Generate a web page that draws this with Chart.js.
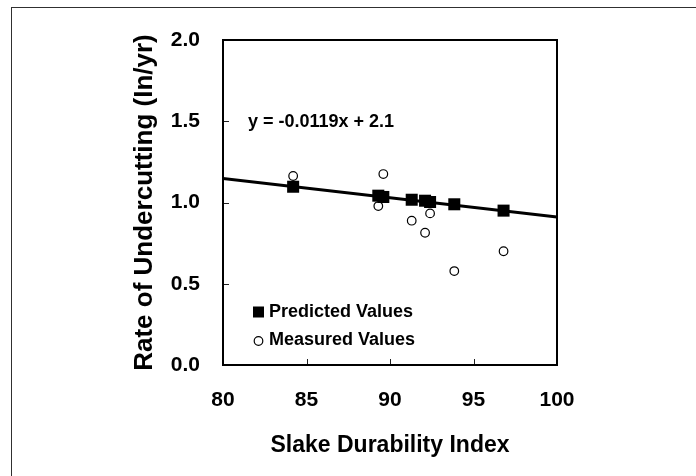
<!DOCTYPE html>
<html>
<head>
<meta charset="utf-8">
<script src="https://cdn.jsdelivr.net/npm/chart.js@4/dist/chart.umd.min.js"></script>
<style>
  html, body { margin: 0; padding: 0; background: #ffffff; }
  #wrap { width: 696px; height: 476px; position: relative; }
</style>
</head>
<body>
<div id="wrap"><canvas id="c" width="696" height="476"></canvas></div>
<script>
// ---- data ----
const slakeIndex      = [84.2, 89.3, 89.6, 91.3, 92.1, 92.4, 93.85, 96.8];
const predictedValues = [1.097, 1.042, 1.034, 1.017, 1.011, 1.003, 0.989, 0.950];
const measuredValues  = [1.163, 0.978, 1.175, 0.888, 0.814, 0.933, 0.578, 0.700];
const trendSlope = -0.0119;
const trendIntercept = 2.1;
const trendX = [80, 100];
const xTicks = [80, 85, 90, 95, 100];
const yTicks = [0.0, 0.5, 1.0, 1.5, 2.0];
const seriesNames = ['Predicted Values', 'Measured Values'];
const equationText = 'y = -0.0119x + 2.1';
const xTitle = 'Slake Durability Index';
const yTitle = 'Rate of Undercutting (In/yr)';

const FONT = '"Liberation Sans", Arial, sans-serif';

const predictedPts = slakeIndex.map((x, i) => ({x: x, y: predictedValues[i]}));
const measuredPts  = slakeIndex.map((x, i) => ({x: x, y: measuredValues[i]}));
const trendPts     = trendX.map(x => ({x: x, y: trendIntercept + trendSlope * x}));

const decorPlugin = {
  id: 'decor',
  beforeDraw(chart) {
    const ctx = chart.ctx;
    ctx.save();
    ctx.fillStyle = '#ffffff';
    ctx.fillRect(0, 0, chart.width, chart.height);
    // outer chart-area border (continues past right/bottom edge)
    ctx.strokeStyle = '#303030';
    ctx.lineWidth = 1;
    ctx.strokeRect(11.5, 7.5, 800, 600);
    ctx.restore();
  },
  afterDatasetsDraw(chart) {
    const ctx = chart.ctx;
    const a = chart.chartArea;
    const xs = chart.scales.x, ys = chart.scales.y;
    ctx.save();
    // inward tick marks
    ctx.strokeStyle = '#202020';
    ctx.lineWidth = 1;
    ctx.beginPath();
    xTicks.forEach(v => {
      const px = Math.round(xs.getPixelForValue(v)) + 0.5;
      ctx.moveTo(px, a.bottom);
      ctx.lineTo(px, a.bottom - 6);
    });
    yTicks.forEach(v => {
      const py = Math.round(ys.getPixelForValue(v)) + 0.5;
      ctx.moveTo(a.left, py);
      ctx.lineTo(a.left + 6, py);
    });
    ctx.stroke();
    // plot frame
    ctx.strokeStyle = '#000000';
    ctx.lineWidth = 2;
    ctx.strokeRect(a.left, a.top, a.right - a.left, a.bottom - a.top);

    // equation text
    ctx.fillStyle = '#000000';
    ctx.font = 'bold 18px ' + FONT;
    ctx.textAlign = 'left';
    ctx.textBaseline = 'middle';
    ctx.fillText(equationText, 248, 122);

    // legend
    const lx = 258.5;
    const rows = [312, 340];
    ctx.fillStyle = '#000000';
    ctx.fillRect(lx - 5.5, rows[0] - 5.5, 11, 11);
    ctx.beginPath();
    ctx.arc(lx, rows[1] + 1, 4.3, 0, Math.PI * 2);
    ctx.fillStyle = '#ffffff';
    ctx.fill();
    ctx.lineWidth = 1.2;
    ctx.strokeStyle = '#000000';
    ctx.stroke();
    ctx.fillStyle = '#000000';
    ctx.font = 'bold 18px ' + FONT;
    ctx.fillText(seriesNames[0], 269, rows[0]);
    ctx.fillText(seriesNames[1], 269, rows[1]);
    ctx.restore();
  }
};

new Chart(document.getElementById('c'), {
  type: 'scatter',
  data: {
    datasets: [
      {
        label: seriesNames[0],
        data: predictedPts,
        pointStyle: 'rect',
        pointRadius: 8.5,
        pointHoverRadius: 8.5,
        backgroundColor: '#000000',
        borderColor: '#000000',
        borderWidth: 0,
        order: 1
      },
      {
        label: seriesNames[1],
        data: measuredPts,
        pointStyle: 'circle',
        pointRadius: 4.3,
        pointHoverRadius: 4.3,
        backgroundColor: '#ffffff',
        borderColor: '#000000',
        borderWidth: 1.2,
        order: 2
      },
      {
        label: 'Trend',
        type: 'line',
        data: trendPts,
        showLine: true,
        borderColor: '#000000',
        borderWidth: 3,
        pointRadius: 0,
        fill: false,
        order: 3
      }
    ]
  },
  plugins: [decorPlugin],
  options: {
    responsive: false,
    animation: false,
    devicePixelRatio: 1,
    layout: { padding: { left: 0, top: 40, right: 139, bottom: 0 } },
    plugins: {
      legend: { display: false },
      tooltip: { enabled: false },
      title: { display: false }
    },
    scales: {
      x: {
        type: 'linear',
        position: 'bottom',
        min: 80, max: 100,
        afterBuildTicks: s => { s.ticks = xTicks.map(v => ({value: v})); },
        afterFit: s => { s.height = 111; },
        grid: { display: false, drawTicks: false },
        border: { display: false },
        ticks: {
          color: '#000000',
          padding: 23,
          font: { family: FONT, size: 21, weight: 'bold' },
          callback: v => String(v)
        },
        title: {
          display: true,
          text: xTitle,
          color: '#000000',
          padding: 17,
          font: { family: FONT, size: 23, weight: 'bold' }
        }
      },
      y: {
        type: 'linear',
        position: 'left',
        min: 0, max: 2,
        afterBuildTicks: s => { s.ticks = yTicks.map(v => ({value: v})); },
        afterFit: s => { s.width = 223; },
        grid: { display: false, drawTicks: false },
        border: { display: false },
        ticks: {
          color: '#000000',
          padding: 23,
          font: { family: FONT, size: 21, weight: 'bold' },
          callback: v => Number(v).toFixed(1)
        },
        title: {
          display: true,
          text: yTitle,
          color: '#000000',
          padding: 129,
          font: { family: FONT, size: 26, weight: 'bold' }
        }
      }
    }
  }
});
</script>
</body>
</html>
